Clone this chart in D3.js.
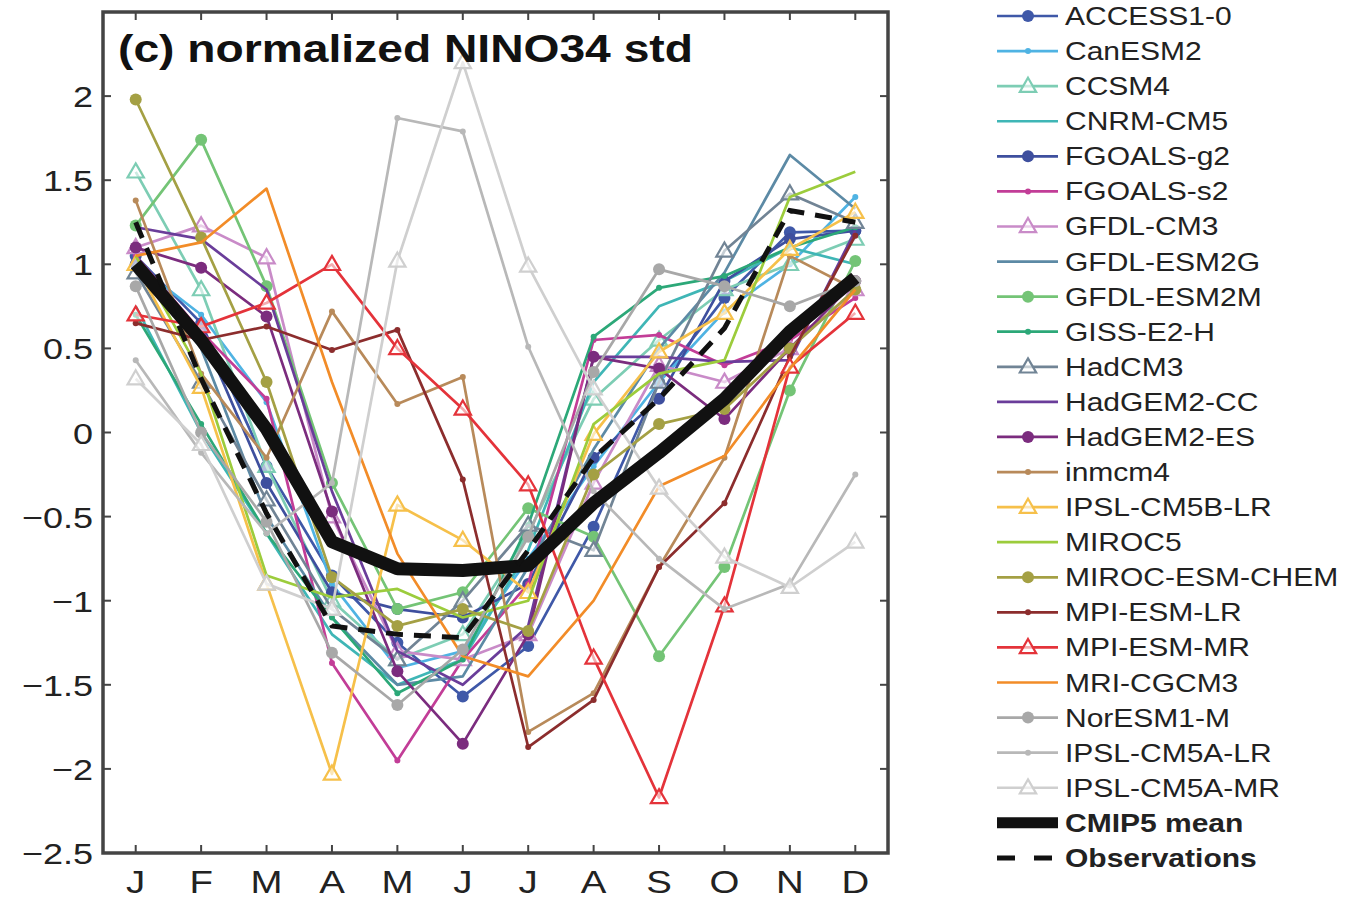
<!DOCTYPE html>
<html><head><meta charset="utf-8">
<script src="https://cdn.jsdelivr.net/npm/d3@7"></script>
<style>body{margin:0;background:#fff}svg{display:block}text{font-family:"Liberation Sans",Arial,sans-serif}</style>
</head><body><svg id="c" width="1347" height="898"></svg>
<script>
const months = ["J","F","M","A","M","J","J","A","S","O","N","D"];
const yTicks = [-2.5,-2,-1.5,-1,-0.5,0,0.5,1,1.5,2];
const modelNames = ["ACCESS1-0","CanESM2","CCSM4","CNRM-CM5","FGOALS-g2","FGOALS-s2","GFDL-CM3","GFDL-ESM2G","GFDL-ESM2M","GISS-E2-H","HadCM3","HadGEM2-CC","HadGEM2-ES","inmcm4","IPSL-CM5B-LR","MIROC5","MIROC-ESM-CHEM","MPI-ESM-LR","MPI-ESM-MR","MRI-CGCM3","NorESM1-M","IPSL-CM5A-LR","IPSL-CM5A-MR"];
const access10    = [1.05, 0.65, -0.20, -0.85, -1.25, -1.57, -1.27, -0.56, 0.30, 0.80, 1.19, 1.20];
const canesm2     = [1.00, 0.70, 0.18, -0.90, -1.40, -1.30, -0.75, -0.20, 0.30, 0.72, 1.00, 1.40];
const ccsm4       = [1.55, 0.85, -0.20, -1.00, -1.35, -1.20, -0.60, 0.20, 0.55, 0.85, 1.00, 1.15];
const cnrmcm5     = [0.75, 0.00, -0.60, -1.20, -1.50, -1.35, -0.70, 0.30, 0.75, 0.90, 1.10, 1.00];
const fgoalsg2    = [1.00, 0.60, -0.30, -0.95, -1.05, -1.10, -0.90, -0.15, 0.20, 0.90, 1.15, 1.20];
const fgoalss2    = [1.05, 0.60, 0.20, -1.37, -1.95, -1.35, -0.90, 0.55, 0.58, 0.40, 0.55, 0.80];
const gfdlcm3     = [1.10, 1.23, 1.04, -0.50, -1.30, -1.35, -1.20, -0.30, 0.40, 0.30, 0.50, 0.85];
const gfdlesm2g   = [1.00, 0.50, -0.50, -1.10, -1.50, -1.45, -0.80, -0.10, 0.50, 0.95, 1.65, 1.33];
const gfdlesm2m   = [1.23, 1.74, 0.87, -0.30, -1.05, -0.95, -0.45, -0.62, -1.33, -0.80, 0.25, 1.02];
const gisse2h     = [0.70, 0.05, -0.60, -1.10, -1.55, -1.35, -0.55, 0.57, 0.86, 0.93, 1.10, 1.22];
const hadcm3      = [0.95, 0.30, -0.40, -1.05, -1.35, -1.00, -0.55, -0.70, 0.30, 1.08, 1.42, 1.25];
const hadgem2cc   = [1.22, 1.15, 0.85, -0.35, -1.30, -1.50, -1.15, 0.45, 0.45, 0.42, 0.43, 1.20];
const hadgem2es   = [1.10, 0.98, 0.69, -0.47, -1.42, -1.85, -1.20, 0.45, 0.38, 0.08, 0.50, 0.90];
const inmcm4      = [1.38, 0.35, -0.15, 0.72, 0.17, 0.33, -1.78, -1.55, -0.80, -0.15, 1.05, 0.85];
const ipslcm5blr  = [1.00, 0.27, -0.90, -2.03, -0.43, -0.64, -0.95, -0.01, 0.48, 0.71, 1.09, 1.31];
const miroc5      = [1.05, 0.35, -0.85, -0.98, -0.93, -1.10, -1.00, 0.05, 0.35, 0.43, 1.40, 1.55];
const mirocesmchem= [1.98, 1.16, 0.30, -0.86, -1.15, -1.05, -1.18, -0.25, 0.05, 0.14, 0.50, 0.85];
const mpiesmlr    = [0.65, 0.55, 0.63, 0.49, 0.61, -0.28, -1.87, -1.59, -0.80, -0.42, 0.45, 1.17];
const mpiesmmr    = [0.70, 0.63, 0.77, 1.00, 0.50, 0.14, -0.31, -1.34, -2.17, -1.03, 0.39, 0.71];
const mricgcm3    = [1.05, 1.13, 1.45, 0.30, -0.72, -1.33, -1.45, -1.00, -0.32, -0.14, 0.38, 0.85];
const noresm1m    = [0.87, 0.00, -0.53, -1.31, -1.62, -1.29, -0.62, 0.36, 0.97, 0.87, 0.75, 0.90];
const ipslcm5alr  = [0.43, -0.12, -0.60, -0.30, 1.87, 1.79, 0.51, -0.35, -0.75, -1.05, -0.90, -0.25];
const ipslcm5amr  = [0.32, -0.07, -0.90, -1.05, 1.02, 2.20, 0.99, 0.26, -0.33, -0.74, -0.92, -0.65];
const cmip5Mean   = [1.00, 0.55, 0.02, -0.65, -0.81, -0.82, -0.79, -0.42, -0.12, 0.20, 0.60, 0.92];
const observations= [1.25, 0.32, -0.48, -1.15, -1.20, -1.22, -0.70, -0.15, 0.20, 0.62, 1.32, 1.25];

const modelValues = [access10,canesm2,ccsm4,cnrmcm5,fgoalsg2,fgoalss2,gfdlcm3,gfdlesm2g,gfdlesm2m,gisse2h,hadcm3,hadgem2cc,hadgem2es,inmcm4,ipslcm5blr,miroc5,mirocesmchem,mpiesmlr,mpiesmmr,mricgcm3,noresm1m,ipslcm5alr,ipslcm5amr];
const modelColors = ["#3f58a8","#4fb3e3","#7dcdb4","#3fb6b6","#3e4f9e","#c23d97","#c98bc8","#5c8aa5","#74c476","#2ca878","#718495","#6a3d9a","#7b2c7e","#b88a5a","#f6c04a","#9ccc3c","#a4a044","#8c2d2d","#e4333a","#f28c28","#a8a8a8","#b8b8b8","#cfcfcf"];
const modelMarkers = ["circle","dot","tri","none","circle","dot","tri","none","circle","dot","tri","none","circle","dot","tri","none","circle","dot","tri","none","circle","dot","tri"];

const svg = d3.select("#c");
const L=103,R=888,T=12,B=853, SX=1.2;
const x = d3.scaleLinear().domain([0.5,12.5]).range([L,R]);
const y = d3.scaleLinear().domain([-2.5,2.5]).range([B,T]);

svg.append("defs").append("clipPath").attr("id","clip").append("rect")
  .attr("x",L).attr("y",T).attr("width",R-L).attr("height",B-T);

const plot = svg.append("g").attr("clip-path","url(#clip)");
const line = d3.line().x((d,i)=>x(i+1)).y(d=>y(d));

function drawMarker(g, type, color, cx, cy){
  if(type==="circle") g.append("circle").attr("cx",cx).attr("cy",cy).attr("r",6).attr("fill",color);
  else if(type==="dot") g.append("circle").attr("cx",cx).attr("cy",cy).attr("r",3).attr("fill",color);
  else if(type==="tri") g.append("path").attr("d",d3.symbol(d3.symbolTriangle,115)()).attr("transform",`translate(${cx},${cy+1})`)
        .attr("fill","#fff").attr("fill-opacity",0.6).attr("stroke",color).attr("stroke-width",2.2);
}

modelValues.forEach((vals,k)=>{
  const g = plot.append("g");
  g.append("path").datum(vals).attr("d",line).attr("fill","none").attr("stroke",modelColors[k]).attr("stroke-width",2.7).attr("stroke-linejoin","round");
  vals.forEach((v,i)=>drawMarker(g, modelMarkers[k], modelColors[k], x(i+1), y(v)));
});
plot.append("path").datum(cmip5Mean).attr("d",line).attr("fill","none").attr("stroke","#111").attr("stroke-width",13).attr("stroke-linejoin","round");
plot.append("path").datum(observations).attr("d",line).attr("fill","none").attr("stroke","#111").attr("stroke-width",5).attr("stroke-dasharray","17,11");

// frame and ticks
const ax = svg.append("g").attr("stroke","#444");
ax.append("rect").attr("x",L).attr("y",T).attr("width",R-L).attr("height",B-T).attr("fill","none").attr("stroke-width",3.5);
yTicks.forEach(t=>{
  ax.append("line").attr("x1",L).attr("x2",L+8).attr("y1",y(t)).attr("y2",y(t)).attr("stroke-width",2);
  ax.append("line").attr("x1",R-8).attr("x2",R).attr("y1",y(t)).attr("y2",y(t)).attr("stroke-width",2);
});
months.forEach((m,i)=>{
  ax.append("line").attr("x1",x(i+1)).attr("x2",x(i+1)).attr("y1",B).attr("y2",B-8).attr("stroke-width",2);
  ax.append("line").attr("x1",x(i+1)).attr("x2",x(i+1)).attr("y1",T).attr("y2",T+8).attr("stroke-width",2);
});
const fmt = v => (v<0?"\u2212":"") + Math.abs(v);
yTicks.forEach(t=>{
  svg.append("text").attr("transform",`translate(93,${y(t)+11}) scale(${SX},1)`).attr("text-anchor","end")
    .attr("font-size",30).attr("fill","#222").text(fmt(t));
});
months.forEach((m,i)=>{
  svg.append("text").attr("transform",`translate(${x(i+1)},893) scale(${SX},1)`).attr("text-anchor","middle")
    .attr("font-size",32).attr("fill","#222").text(m);
});
svg.append("text").attr("transform",`translate(118,62) scale(${SX},1)`).attr("font-size",38.5).attr("font-weight","bold").attr("fill","#111")
  .text("(c) normalized NINO34 std");

// legend
const lg = svg.append("g");
const rowY = i => 16 + i*35.08;
modelNames.forEach((name,k)=>{
  const cy = rowY(k);
  lg.append("line").attr("x1",997).attr("x2",1058).attr("y1",cy).attr("y2",cy).attr("stroke",modelColors[k]).attr("stroke-width",2.7);
  drawMarker(lg, modelMarkers[k], modelColors[k], 1028, cy);
  lg.append("text").attr("transform",`translate(1065,${cy+9}) scale(${SX},1)`).attr("font-size",25).attr("fill","#222").text(name);
});
const mi = modelNames.length;
lg.append("line").attr("x1",997).attr("x2",1058).attr("y1",rowY(mi)).attr("y2",rowY(mi)).attr("stroke","#111").attr("stroke-width",11);
lg.append("text").attr("transform",`translate(1065,${rowY(mi)+9}) scale(${SX},1)`).attr("font-size",25).attr("font-weight","bold").attr("fill","#222").text("CMIP5 mean");
lg.append("line").attr("x1",997).attr("x2",1058).attr("y1",rowY(mi+1)).attr("y2",rowY(mi+1)).attr("stroke","#111").attr("stroke-width",5).attr("stroke-dasharray","18,19");
lg.append("text").attr("transform",`translate(1065,${rowY(mi+1)+9}) scale(${SX},1)`).attr("font-size",25).attr("font-weight","bold").attr("fill","#222").text("Observations");
</script></body></html>
